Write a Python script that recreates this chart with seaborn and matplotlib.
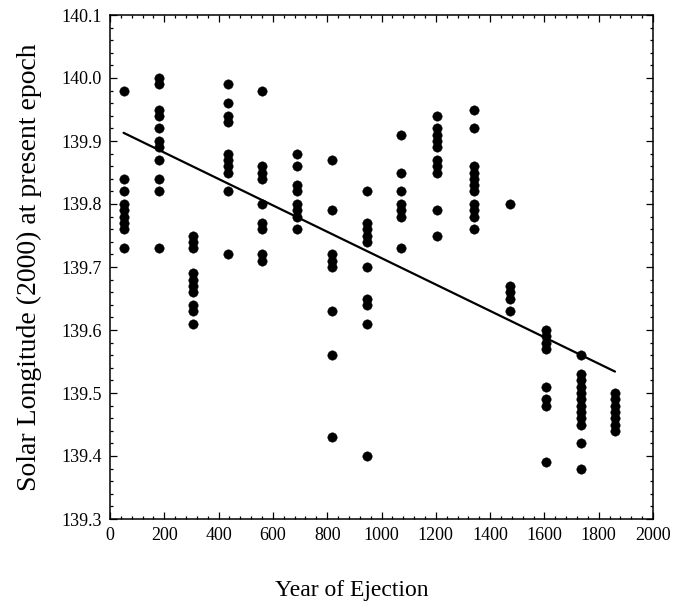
import matplotlib
matplotlib.use("Agg")
import matplotlib.pyplot as plt
import pandas as pd
import seaborn as sns
from matplotlib.ticker import MultipleLocator

# Ejection epochs (years) and the present-epoch solar longitudes of the
# simulated meteoroid trails released at each epoch.
ejection_years = [50, 180, 307, 433, 560, 690, 818, 945, 1073, 1203,
                  1340, 1472, 1605, 1735, 1860]

sl_50 = [139.98, 139.84, 139.82, 139.80, 139.79, 139.78, 139.77, 139.76, 139.73]
sl_180 = [140.00, 139.99, 139.95, 139.94, 139.92, 139.90, 139.89, 139.87,
          139.84, 139.82, 139.73]
sl_307 = [139.75, 139.74, 139.73, 139.69, 139.68, 139.67, 139.66, 139.64,
          139.63, 139.61]
sl_433 = [139.99, 139.96, 139.94, 139.93, 139.88, 139.87, 139.86, 139.85,
          139.82, 139.72]
sl_560 = [139.98, 139.86, 139.85, 139.84, 139.80, 139.77, 139.76, 139.72, 139.71]
sl_690 = [139.88, 139.86, 139.83, 139.82, 139.80, 139.79, 139.78, 139.76]
sl_818 = [139.87, 139.79, 139.72, 139.71, 139.70, 139.63, 139.56, 139.43]
sl_945 = [139.82, 139.77, 139.76, 139.75, 139.74, 139.70, 139.65, 139.64,
          139.61, 139.40]
sl_1073 = [139.91, 139.85, 139.82, 139.80, 139.79, 139.78, 139.73]
sl_1203 = [139.94, 139.92, 139.91, 139.90, 139.89, 139.87, 139.86, 139.85,
           139.79, 139.75]
sl_1340 = [139.95, 139.92, 139.86, 139.85, 139.84, 139.83, 139.82, 139.80,
           139.79, 139.78, 139.76]
sl_1472 = [139.80, 139.67, 139.66, 139.65, 139.63]
sl_1605 = [139.60, 139.59, 139.58, 139.57, 139.51, 139.49, 139.48, 139.39]
sl_1735 = [139.56, 139.53, 139.52, 139.51, 139.50, 139.49, 139.48, 139.47,
           139.46, 139.45, 139.42, 139.38]
sl_1860 = [139.50, 139.49, 139.48, 139.47, 139.46, 139.45, 139.44]

longitude_groups = [sl_50, sl_180, sl_307, sl_433, sl_560, sl_690, sl_818,
                    sl_945, sl_1073, sl_1203, sl_1340, sl_1472, sl_1605,
                    sl_1735, sl_1860]

# Least-squares trend line end points
fit_years = [50, 1860]
fit_longitudes = [139.913, 139.534]

x_ticks = [0, 200, 400, 600, 800, 1000, 1200, 1400, 1600, 1800, 2000]
y_ticks = [139.3, 139.4, 139.5, 139.6, 139.7, 139.8, 139.9, 140.0, 140.1]

points = pd.DataFrame(
    [(yr, sl) for yr, group in zip(ejection_years, longitude_groups) for sl in group],
    columns=["year", "longitude"],
)
trend = pd.DataFrame({"year": fit_years, "longitude": fit_longitudes})

sns.set_theme(style="ticks")
plt.rcParams["font.family"] = ["Liberation Serif", "DejaVu Serif"]

fig = plt.figure(figsize=(6.74, 6.03), dpi=100)
ax = fig.add_axes([110 / 674, 1 - 519 / 603, 543 / 674, 504 / 603])

sns.scatterplot(data=points, x="year", y="longitude", ax=ax, color="black",
                s=46, edgecolor="black", linewidth=0.3, legend=False, zorder=3)
sns.lineplot(data=trend, x="year", y="longitude", ax=ax, color="black",
             linewidth=1.6, zorder=2)

ax.set_xlim(0, 2000)
ax.set_ylim(139.3, 140.1)
ax.set_xticks(x_ticks)
ax.set_yticks(y_ticks)
ax.set_xticklabels([str(t) for t in x_ticks])
ax.set_yticklabels([f"{t:.1f}" for t in y_ticks])
ax.xaxis.set_minor_locator(MultipleLocator(40))
ax.yaxis.set_minor_locator(MultipleLocator(0.02))

ax.tick_params(which="both", direction="in", top=True, right=True,
               color="black", width=0.9)
ax.tick_params(which="major", length=5, labelsize=13, pad=6, labelcolor="black")
ax.tick_params(which="minor", length=2.5)
for side in ax.spines.values():
    side.set_visible(True)
    side.set_linewidth(1.1)
    side.set_color("black")

ax.set_xlabel("Year of Ejection", fontsize=17, color="black")
ax.set_ylabel("Solar Longitude (2000) at present epoch", fontsize=20, color="black")
ax.xaxis.set_label_coords((351.5 - 110) / 543, -(580 - 519) / 504)
ax.yaxis.set_label_coords(-(110 - 42) / 543, 0.5)

fig.savefig("out.png", dpi=100, facecolor="white")
